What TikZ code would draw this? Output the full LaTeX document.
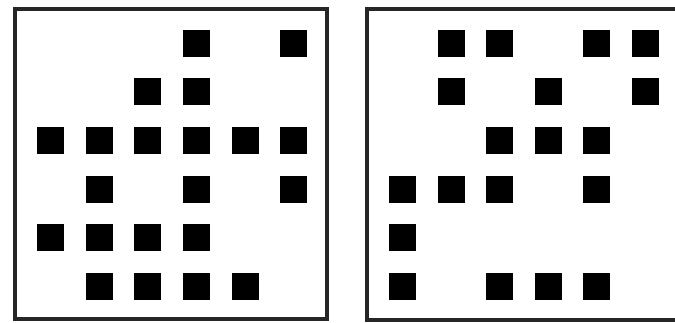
\documentclass[tikz,border=0pt]{standalone}
\begin{document}
\begin{tikzpicture}[x=1pt,y=-1pt,
  frame/.style={draw=black!85,line width=3.2pt},
  cell/.style={fill=black}]
\useasboundingbox (0,0) rectangle (675,322);
\fill[white] (0,0) rectangle (675,322);
% left box
\draw[frame] (15,9) rectangle (327,319);
% right box (right side cut off)
\draw[frame] (678,9) -- (367,9) -- (367,320) -- (678,320);
\def\lx{{0,50.5,99,147.5,196.5,245,293}}
\def\ry{{0,43,91,140.5,189,237,286}}
\def\rx{{0,402,451,499,548,596,645}}
\foreach \r/\c in {1/4,1/6, 2/3,2/4, 3/1,3/2,3/3,3/4,3/5,3/6, 4/2,4/4,4/6, 5/1,5/2,5/3,5/4, 6/2,6/3,6/4,6/5}{
  \pgfmathsetmacro\xx{\lx[\c]}
  \pgfmathsetmacro\yy{\ry[\r]}
  \fill[cell] (\xx-13.5,\yy-13.5) rectangle (\xx+13.5,\yy+13.5);
}
\foreach \r/\c in {1/2,1/3,1/5,1/6, 2/2,2/4,2/6, 3/3,3/4,3/5, 4/1,4/2,4/3,4/5, 5/1, 6/1,6/3,6/4,6/5}{
  \pgfmathsetmacro\xx{\rx[\c]}
  \pgfmathsetmacro\yy{\ry[\r]}
  \fill[cell] (\xx-13.5,\yy-13.5) rectangle (\xx+13.5,\yy+13.5);
}
\end{tikzpicture}
\end{document}
